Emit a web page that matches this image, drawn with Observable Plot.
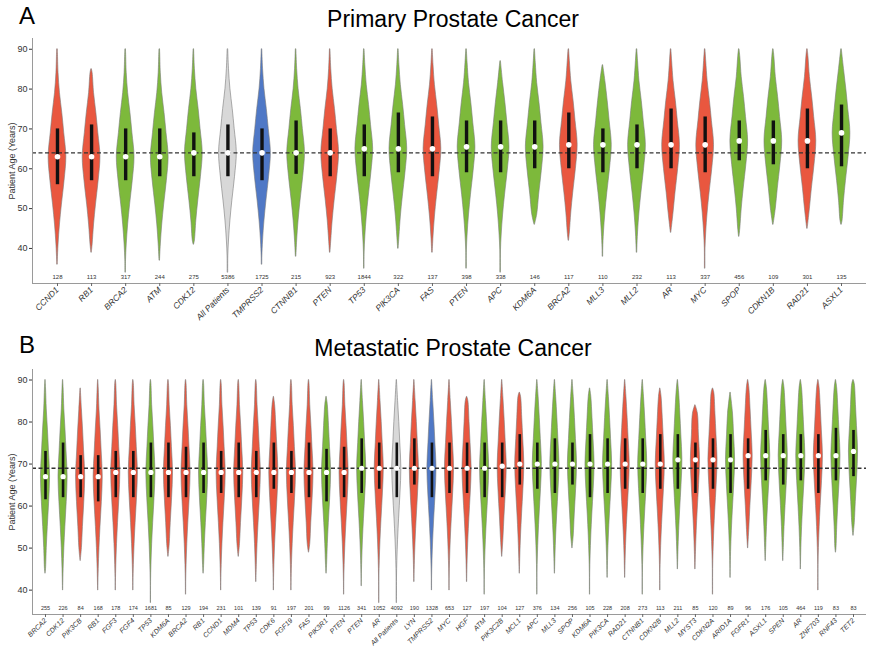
<!DOCTYPE html>
<html>
<head>
<meta charset="utf-8">
<script src="https://cdn.jsdelivr.net/npm/d3@7"></script>
<script src="https://cdn.jsdelivr.net/npm/@observablehq/plot@0.6"></script>
<style>
  body { margin: 0; background: #fff; font-family: "Liberation Sans", Arial, sans-serif; }
  .panel { position: relative; width: 869px; }
  .letter { position: absolute; left: 19px; font-size: 24px; color: #000; }
  .title { position: absolute; left: 453px; transform: translateX(-50%); font-size: 23px; color: #000; white-space: nowrap; }
  svg { display: block; }
</style>
</head>
<body>
<div class="panel" id="pa" style="height:330px">
  <div class="letter" style="top:2px">A</div>
  <div class="title" style="top:6px">Primary Prostate Cancer</div>
</div>
<div class="panel" id="pb" style="height:317px">
  <div class="letter" style="top:1px">B</div>
  <div class="title" style="top:5px">Metastatic Prostate Cancer</div>
</div>
<script>
// ---------- Panel A: Primary Prostate Cancer ----------
const genesA = ["CCND1","RB1","BRCA2","ATM","CDK12","All Patients","TMPRSS2","CTNNB1","PTEN","TP53","PIK3CA","FAS","PTEN","APC","KDM6A","BRCA2","MLL3","MLL2","AR","MYC","SPOP","CDKN1B","RAD21","ASXL1"];
const groupA = ["r","r","g","g","g","a","b","g","r","g","g","r","g","g","g","r","g","g","r","r","g","g","r","g"];
const countA = [128,113,317,244,275,5386,1725,215,923,1844,322,137,398,338,146,117,110,232,113,337,456,109,301,135];
const minA = [36,39,34,37,41,34,36,38,39,35,40,39,35,34,46,42,38,39,44,35,43,46,45,46];
const loA  = [56,57,57,58,58,58,57,58.6,58,58,59,58,59,59,60,60,59,60,60,59,62,61,60,60.5];
const medA = [63,63,63,63,64,64,64,64,64,65,65,65,65.5,65.5,65.5,66,66,66,66,66,67,67,67,69];
const hiA  = [70,71,70,70,69,71,70,72,70,71,74,73,72,72,72,74,70,71,75,73,72,72,75,76];
const maxA = [90,85,90,90,90,90,90,90,90,90,90,90,90,87,90,90,86,90,90,90,90,90,90,90];
const refA = 64;

// ---------- Panel B: Metastatic Prostate Cancer ----------
const genesB = ["BRCA2","CDK12","PIK3CB","RB1","FGF3","FGF4","TP53","KDM6A","BRCA2","RB1","CCND1","MDM4","TP53","CDK6","FGF19","FAS","PIK3R1","PTEN","PTEN","AR","All Patients","LYN","TMPRSS2","MYC","HGF","ATM","PIK3C2B","MCL1","APC","MLL3","SPOP","KDM6A","PIK3CA","RAD21","CTNNB1","CDKN2B","MLL2","MYST3","CDKN2A","ARID1A","FGFR1","ASXL1","SPEN","AR","ZNF703","RNF43","TET2"];
const groupB = ["g","g","r","r","r","r","g","r","r","g","r","r","r","r","r","r","g","r","g","r","a","r","b","r","r","g","r","r","g","g","g","g","g","r","g","r","g","r","r","g","r","g","g","g","r","g","g"];
const countB = [255,226,84,168,178,174,1681,85,129,194,231,101,139,91,197,201,99,1126,341,1052,4092,190,1328,653,127,197,104,127,376,134,256,105,228,208,273,113,211,85,120,89,96,176,105,464,119,83,83];
const minB = [44,40,47,40,40,40,37,48,39,44,40,48,42,40,40,49,44,39,41,37,37,42,40,40,42,39,48,44,39,44,50,39,43,43,39,40,45,45,39,43,50,47,47,45,40,49,53];
const loB  = [61.5,62,62,61,62,62,62,62,62,63,63,62,62,64,63,62,61,62,63,64,62,65,62,63,63,62,62,65,64,63,65,62,63,64,63,64,64,63,64,63,64,66,65,66,63,66,67];
const medB = [67,67,67,67,68,68,68,68,68,68,68,68,68,68,68,68,68,68,69,69,69,69,69,69,69,69,69.5,70,70,70,70,70,70,70,70,70,71,71,71,71,72,72,72,72,72,72,73];
const hiB  = [73,75,72,72,73,73,75,75,74,75,73,75,73,75,73,75,73.5,74,76,75,75,76,75,75,75,75,75,77,75,76,75,77,76,76,76,77,77,75,76,77,76,78,77,77,77,78.5,78];
const maxB = [90,90,88,90,90,90,90,90,90,90,90,90,90,86,90,90,86,90,90,90,90,90,90,90,86,90,90,87,90,90,90,88,90,90,90,88,90,84,88,87,90,90,90,90,90,90,90];
const refB = 69;

const profileOffset = [-30,-26,-22,-17,-12,-6,0,6,11,16,21,26,30];
const profileWidth  = [0.03,0.04,0.12,0.28,0.5,0.8,1,0.76,0.54,0.28,0.12,0.05,0.03];
const tipWidth = 0.03;

const palette = { r: "#E9573F", g: "#7DB93B", a: "#D8D8D8", b: "#4F78C6" };

function violinRows(mn, md, mx) {
  const rows = [];
  md.forEach((m, i) => {
    rows.push({ i, age: mn[i], w: tipWidth });
    profileOffset.forEach((o, k) => {
      const a = m + o;
      if (a > mn[i] + 0.5 && a < mx[i] - 0.5) rows.push({ i, age: a, w: profileWidth[k] });
    });
    rows.push({ i, age: mx[i], w: tipWidth });
  });
  return rows;
}

function panel(o) {
  const N = o.genes.length;
  const idx = d3.range(N);
  const rows = violinRows(o.min, o.med, o.max);
  const xDom = [-o.pad, N - 1 + o.pad];
  return Plot.plot({
    width: 869,
    height: o.height,
    marginLeft: 32,
    marginRight: 3,
    marginTop: o.marginTop,
    marginBottom: o.marginBottom,
    style: { fontFamily: "Liberation Sans, Arial, sans-serif", color: "#333", background: "transparent" },
    x: { domain: xDom },
    y: { domain: o.yDomain },
    color: { type: "identity" },
    marks: [
      Plot.areaX(rows, {
        y: "age",
        x1: d => d.i - d.w * o.halfW,
        x2: d => d.i + d.w * o.halfW,
        z: "i",
        fill: d => palette[o.group[d.i]],
        stroke: "#7a7a7a",
        strokeWidth: 0.6,
        curve: "catmull-rom"
      }),
      Plot.ruleY([o.ref], { stroke: "#333", strokeWidth: 1.3, strokeDasharray: "4,2.5" }),
      Plot.ruleX(idx, { x: d => d, y1: d => o.lo[d], y2: d => o.hi[d], stroke: "#111", strokeWidth: o.boxW }),
      Plot.dot(idx, { x: d => d, y: d => o.med[d], r: o.dotR, fill: "#fff", stroke: "none" }),
      Plot.text(idx, { x: d => d, y: () => o.yDomain[0], text: d => String(o.count[d]), dy: -6, fontSize: o.countSize, fill: "#333" }),
      Plot.ruleX([xDom[0]], { stroke: "#9a9a9a", strokeWidth: 1 }),
      Plot.ruleY([o.yDomain[0]], { stroke: "#9a9a9a", strokeWidth: 1 }),
      Plot.axisY({
        ticks: [40, 50, 60, 70, 80, 90],
        tickSize: 3,
        tickPadding: 2,
        fontSize: 9,
        fill: "#333",
        label: "Patient Age (Years)",
        labelAnchor: "center",
        labelArrow: "none",
        labelOffset: 24
      }),
      Plot.axisX({
        ticks: idx,
        tickFormat: d => o.genes[d],
        tickRotate: -45,
        tickSize: 3,
        tickPadding: 2,
        fontSize: o.labelSize,
        fontStyle: "italic",
        fill: "#333",
        stroke: "#666",
        label: null
      })
    ]
  });
}

const svgA = panel({
  genes: genesA, group: groupA, count: countA, min: minA, lo: loA, med: medA, hi: hiA, max: maxA, ref: refA,
  yDomain: [31.2, 92.7], height: 330, marginTop: 38, marginBottom: 47, pad: 0.733,
  halfW: 0.26, boxW: 3.4, dotR: 2.8, countSize: 6, labelSize: 8.5
});
document.getElementById("pa").appendChild(svgA);

const svgB = panel({
  genes: genesB, group: groupB, count: countB, min: minB, lo: loB, med: medB, hi: hiB, max: maxB, ref: refB,
  yDomain: [34.2, 92.5], height: 317, marginTop: 39, marginBottom: 33, pad: 0.74,
  halfW: 0.26, boxW: 2.6, dotR: 2.6, countSize: 5.5, labelSize: 7
});
document.getElementById("pb").appendChild(svgB);
</script>
</body>
</html>
